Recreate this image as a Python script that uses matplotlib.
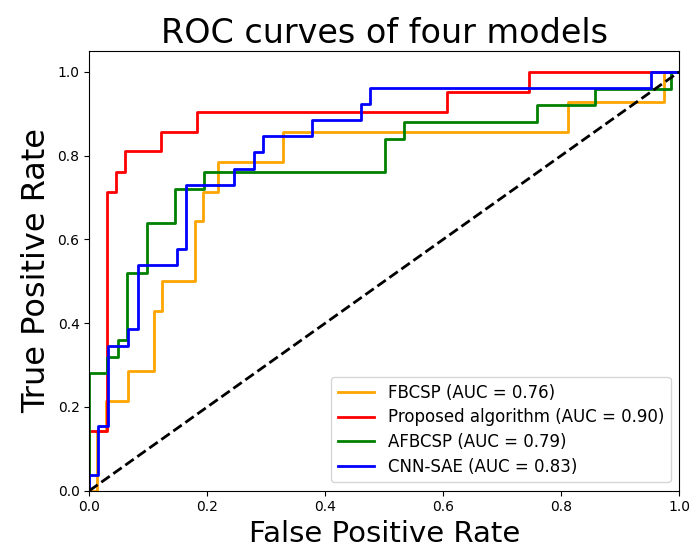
import matplotlib
matplotlib.use("Agg")
import matplotlib.pyplot as plt

# FBCSP
fbcsp_fpr = [0, 0.0125, 0.0125, 0.028, 0.028, 0.066, 0.066, 0.109, 0.109, 0.123, 0.123,
             0.180, 0.180, 0.193, 0.193, 0.218, 0.218, 0.329, 0.329, 0.811, 0.811,
             0.975, 0.975, 1.0]
fbcsp_tpr = [0, 0, 0.143, 0.143, 0.214, 0.214, 0.286, 0.286, 0.429, 0.429, 0.5,
             0.5, 0.643, 0.643, 0.714, 0.714, 0.786, 0.786, 0.857, 0.857, 0.929,
             0.929, 1.0, 1.0]

# Proposed algorithm
prop_fpr = [0, 0, 0.030, 0.030, 0.045, 0.045, 0.060, 0.060, 0.121, 0.121, 0.182,
            0.182, 0.607, 0.607, 0.745, 0.745, 1.0]
prop_tpr = [0, 0.143, 0.143, 0.714, 0.714, 0.762, 0.762, 0.810, 0.810, 0.857, 0.857,
            0.905, 0.905, 0.952, 0.952, 1.0, 1.0]

# AFBCSP
afb_fpr = [0, 0, 0.030, 0.030, 0.048, 0.048, 0.0635, 0.0635, 0.097, 0.097, 0.146,
           0.146, 0.194, 0.194, 0.501, 0.501, 0.534, 0.534, 0.760, 0.760, 0.858,
           0.858, 0.987, 0.987, 1.0]
afb_tpr = [0, 0.28, 0.28, 0.32, 0.32, 0.36, 0.36, 0.52, 0.52, 0.64, 0.64,
           0.72, 0.72, 0.76, 0.76, 0.84, 0.84, 0.88, 0.88, 0.92, 0.92,
           0.96, 0.96, 1.0, 1.0]

# CNN-SAE
cnn_fpr = [0, 0, 0.015, 0.015, 0.031, 0.031, 0.066, 0.066, 0.082, 0.082, 0.148,
           0.148, 0.164, 0.164, 0.246, 0.246, 0.279, 0.279, 0.295, 0.295, 0.378,
           0.378, 0.460, 0.460, 0.476, 0.476, 0.953, 0.953, 1.0]
cnn_tpr = [0, 0.038, 0.038, 0.154, 0.154, 0.346, 0.346, 0.385, 0.385, 0.538, 0.538,
           0.577, 0.577, 0.731, 0.731, 0.769, 0.769, 0.808, 0.808, 0.846, 0.846,
           0.885, 0.885, 0.923, 0.923, 0.962, 0.962, 1.0, 1.0]

labels = ["FBCSP (AUC = 0.76)", "Proposed algorithm (AUC = 0.90)",
          "AFBCSP (AUC = 0.79)", "CNN-SAE (AUC = 0.83)"]
colors = ["orange", "red", "green", "blue"]

fig = plt.figure(figsize=(6.94, 5.5), dpi=100)
ax = fig.add_axes([0.1287, 0.1078, 0.8497, 0.7995])

series = [(fbcsp_fpr, fbcsp_tpr), (prop_fpr, prop_tpr), (afb_fpr, afb_tpr), (cnn_fpr, cnn_tpr)]
for (x, y), lab, c in zip(series, labels, colors):
    ax.plot(x, y, color=c, lw=2, label=lab)
ax.plot([0, 1], [0, 1], "k--", lw=2)

ax.set_xlim(0, 1.0)
ax.set_ylim(0, 1.05)
ax.set_xticks([0, 0.2, 0.4, 0.6, 0.8, 1.0])
ax.set_yticks([0, 0.2, 0.4, 0.6, 0.8, 1.0])
ax.tick_params(labelsize=10)
ax.set_xlabel("False Positive Rate", fontsize=21)
ax.set_ylabel("True Positive Rate", fontsize=23)
ax.set_title("ROC curves of four models", fontsize=24)
ax.legend(loc="lower right", fontsize=12, labelspacing=0.4, handlelength=2.2)

fig.savefig("out.png", dpi=100)
